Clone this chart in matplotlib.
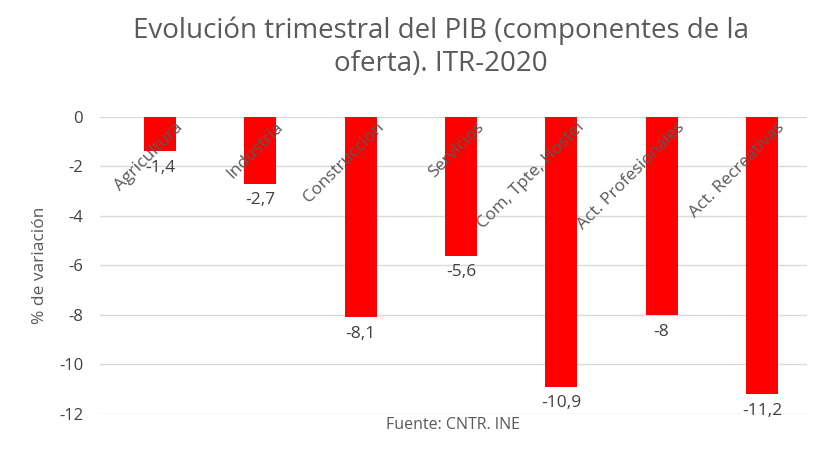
import matplotlib
matplotlib.use("Agg")
import matplotlib.pyplot as plt

categories = ["Agricultura", "Industria", "Construcción", "Servicios", "Com, Tpte, Hostel", "Act. Profesionales", "Act. Recreativas"]
values = [-1.4, -2.7, -8.1, -5.6, -10.9, -8.0, -11.2]
labels = ["-1,4", "-2,7", "-8,1", "-5,6", "-10,9", "-8", "-11,2"]
yticks = [0, -2, -4, -6, -8, -10, -12]

plt.rcParams['font.family'] = ['Open Sans', 'DejaVu Sans']
fig = plt.figure(figsize=(8.32, 4.71), dpi=100)
ax = fig.add_axes([0.12, 0.121, 0.85, 0.631])
x = list(range(len(categories)))
ax.bar(x, values, width=0.32, color="#FF0000", zorder=3)
ax.set_ylim(-12, 0)
ax.set_xlim(-0.6, len(categories) - 0.55)
ax.set_yticks(yticks)
ax.set_yticklabels([str(t) for t in yticks], fontsize=12, color="#404040")
ax.tick_params(axis='y', length=0, pad=12)
ax.set_xticks([])
ax.grid(axis='y', color="#d9d9d9", linewidth=1, zorder=0)
for s in ax.spines.values():
    s.set_visible(False)
for xi, v, lab, c in zip(x, values, labels, categories):
    ax.text(xi, v - 0.35, lab, ha='center', va='top', fontsize=12.5, color="#404040")
    ax.text(xi + 0.15, -0.1, c, rotation=45, ha='right', va='top', fontsize=12.5,
            color="#595959", rotation_mode='anchor', zorder=5)
ax.set_ylabel("% de variación", fontsize=12.5, color="#595959", labelpad=8)
ax.set_xlabel("Fuente: CNTR. INE", fontsize=11.5, color="#595959", labelpad=2)
fig.text(0.53, 0.9, "Evolución trimestral del PIB (componentes de la\noferta). ITR-2020",
         ha='center', va='center', fontsize=20, color="#595959", linespacing=1.25)
fig.savefig("out.png", dpi=100)
